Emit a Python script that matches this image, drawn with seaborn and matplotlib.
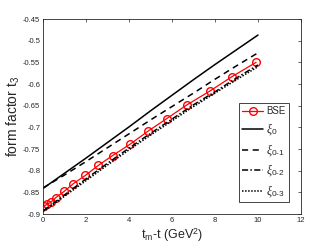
import numpy as np
import pandas as pd
import matplotlib
matplotlib.use("Agg")
import matplotlib.pyplot as plt
import seaborn as sns
from matplotlib.ticker import FuncFormatter

sns.set_style("white")
plt.rcParams['font.family'] = ['Liberation Sans', 'DejaVu Sans']
plt.rcParams['axes.unicode_minus'] = False
plt.rcParams['mathtext.fontset'] = 'custom'
plt.rcParams['mathtext.rm'] = 'Liberation Sans'
plt.rcParams['mathtext.it'] = 'Liberation Serif:italic'

# ---- data ----
bse_t = [0.05, 0.2, 0.36, 0.6, 0.98, 1.41, 1.97, 2.57, 3.24, 4.05, 4.88, 5.75, 6.70, 7.77, 8.79, 9.91]
bse_f = [-0.882, -0.877, -0.873, -0.862, -0.848, -0.830, -0.811, -0.788, -0.765, -0.739,
         -0.709, -0.680, -0.648, -0.616, -0.583, -0.550]

t_grid = [0, 1, 2, 3, 4, 5, 6, 7, 8, 9, 10]
xi0 = [-0.841, -0.806, -0.771, -0.735, -0.699, -0.662, -0.626, -0.590, -0.555, -0.521, -0.487]
xi01 = [-0.840, -0.810, -0.779, -0.747, -0.715, -0.683, -0.652, -0.621, -0.589, -0.558, -0.528]
xi02 = [-0.893, -0.856, -0.819, -0.783, -0.748, -0.714, -0.681, -0.648, -0.618, -0.586, -0.556]
xi03 = [-0.895, -0.859, -0.823, -0.787, -0.752, -0.718, -0.685, -0.652, -0.621, -0.590, -0.560]

labels = ['BSE', r'$\xi_{0}$', r'$\xi_{0\text{-}1}$', r'$\xi_{0\text{-}2}$', r'$\xi_{0\text{-}3}$']
x_ticks = [0, 2, 4, 6, 8, 10, 12]
y_ticks = [-0.9, -0.85, -0.8, -0.75, -0.7, -0.65, -0.6, -0.55, -0.5, -0.45]

fig = plt.figure(figsize=(3.32, 2.49), dpi=100)
ax = fig.add_axes([43/332, 1-214/249, (301-43)/332, (214-19)/249])

grey = '#262626'
sns.lineplot(x=bse_t, y=bse_f, ax=ax, color='red', lw=0.9, marker='o', markersize=5.5,
             markerfacecolor='none', markeredgecolor='red', markeredgewidth=1.0,
             label=labels[0], sort=False)
sns.lineplot(x=t_grid, y=xi0, ax=ax, color='black', lw=1.1, ls='-', label=labels[1])
sns.lineplot(x=t_grid, y=xi01, ax=ax, color='black', lw=1.1, ls=(0, (4, 3)), label=labels[2])
sns.lineplot(x=t_grid, y=xi02, ax=ax, color='black', lw=1.1, ls=(0, (4, 1.5, 1, 1.5)), label=labels[3])
sns.lineplot(x=t_grid, y=xi03, ax=ax, color='black', lw=1.1, ls=(0, (1, 1)), label=labels[4])

ax.set_xlim(0, 12)
ax.set_ylim(-0.9, -0.45)
ax.set_xticks(x_ticks)
ax.set_yticks(y_ticks)
ax.yaxis.set_major_formatter(FuncFormatter(lambda v, p: '%g' % round(v, 3)))
ax.tick_params(direction='in', length=2, width=0.5, colors=grey, labelsize=5.5,
               top=True, right=True, pad=2)
for s in ax.spines.values():
    s.set_color(grey)
    s.set_linewidth(0.6)

ax.set_xlabel(r't$_\mathrm{m}$-t (GeV$^\mathrm{2}$)', fontsize=9, color=grey, labelpad=2)
ax.set_ylabel(r'form factor t$_\mathrm{3}$', fontsize=10, color=grey, labelpad=1)

leg = ax.legend(loc='upper left', bbox_to_anchor=(0.760, 0.569), fontsize=7,
                frameon=True, fancybox=False, edgecolor=grey, framealpha=1,
                handlelength=2.1, handletextpad=0.3, labelspacing=0.48,
                borderpad=0.35, borderaxespad=0)
leg.get_frame().set_linewidth(0.6)
for txt in leg.get_texts()[1:]:
    txt.set_fontsize(8.5)

fig.savefig('out.png', dpi=100)
